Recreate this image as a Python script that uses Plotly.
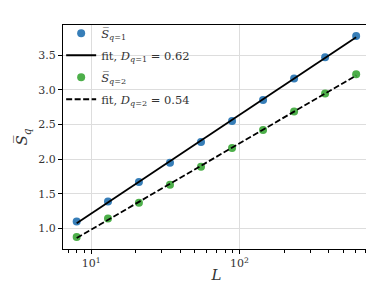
import numpy as np
import plotly.graph_objects as go

L = [8, 13, 21, 34, 55, 89, 144, 233, 377, 610]
S_q1 = [1.10, 1.39, 1.67, 1.95, 2.25, 2.55, 2.855, 3.165, 3.47, 3.78]
S_q2 = [0.877, 1.145, 1.37, 1.63, 1.89, 2.16, 2.42, 2.69, 2.95, 3.225]
y_ticks = [1.0, 1.5, 2.0, 2.5, 3.0, 3.5]
x_ticks = [10, 100]
x_tick_labels = ["10<sup>1</sup>", "10<sup>2</sup>"]

BLUE = "#377eb8"
GREEN = "#4daf4a"
FONT = "'DejaVu Serif', serif"
TXT = "#333333"

lnL = np.log(np.array(L, dtype=float))
D1, c1 = np.polyfit(lnL, S_q1, 1)
D2, c2 = np.polyfit(lnL, S_q2, 1)
fit1 = D1 * lnL + c1
fit2 = D2 * lnL + c2

fig = go.Figure()
fig.add_trace(go.Scatter(x=L, y=S_q1, mode="markers",
                         marker=dict(color=BLUE, size=8), legendgroup="a",
                         name="<i>S\u0305</i><sub><i>q</i>=1</sub>"))
fig.add_trace(go.Scatter(x=L, y=fit1, mode="lines", legendgroup="b",
                         line=dict(color="black", width=1.8),
                         name="fit, <i>D</i><sub><i>q</i>=1</sub> = %.2f" % D1))
fig.add_trace(go.Scatter(x=L, y=S_q2, mode="markers", legendgroup="c",
                         marker=dict(color=GREEN, size=8),
                         name="<i>S\u0305</i><sub><i>q</i>=2</sub>"))
fig.add_trace(go.Scatter(x=L, y=fit2, mode="lines", legendgroup="d",
                         line=dict(color="black", width=1.8, dash="6px,2.5px"),
                         name="fit, <i>D</i><sub><i>q</i>=2</sub> = %.2f" % D2))

fig.update_layout(
    width=374, height=287,
    margin=dict(l=55, r=12, t=11, b=46),
    plot_bgcolor="white", paper_bgcolor="white",
    font=dict(family=FONT, size=11, color=TXT),
    legend=dict(x=-0.006, y=1.028, xanchor="left", yanchor="top",
                bgcolor="rgba(255,255,255,0)", borderwidth=0,
                font=dict(family=FONT, size=11.5, color=TXT),
                tracegroupgap=3, itemwidth=30),
    showlegend=True,
)
fig.update_xaxes(type="log", range=[np.log10(6.47), np.log10(756)],
                 tickvals=x_ticks, ticktext=x_tick_labels,
                 showgrid=True, gridcolor="#dddddd", gridwidth=1,
                 showline=True, linecolor="black", linewidth=1.2, mirror=True,
                 ticks="outside", ticklen=4, tickcolor="black",
                 tickfont=dict(family=FONT, size=11, color=TXT),
                 minor=dict(ticks="outside", ticklen=2.5, tickcolor="black", showgrid=False,
                            tickvals=[7, 8, 9, 20, 30, 40, 50, 60, 70, 80, 90, 200, 300, 400, 500, 600, 700]),
                 title=dict(text="<i>L</i>", font=dict(family=FONT, size=15, color=TXT), standoff=0),
                 zeroline=False)
fig.update_yaxes(range=[0.704, 3.937], tickvals=y_ticks,
                 ticktext=["%.1f" % v for v in y_ticks],
                 showgrid=True, gridcolor="#dddddd", gridwidth=1,
                 showline=True, linecolor="black", linewidth=1.2, mirror=True,
                 ticks="outside", ticklen=4, tickcolor="black",
                 tickfont=dict(family=FONT, size=11, color=TXT),
                 title=dict(text="<i>S\u0305</i><sub><i>q</i></sub>", font=dict(family=FONT, size=15, color=TXT), standoff=6),
                 zeroline=False)

fig.write_html("out.html")
